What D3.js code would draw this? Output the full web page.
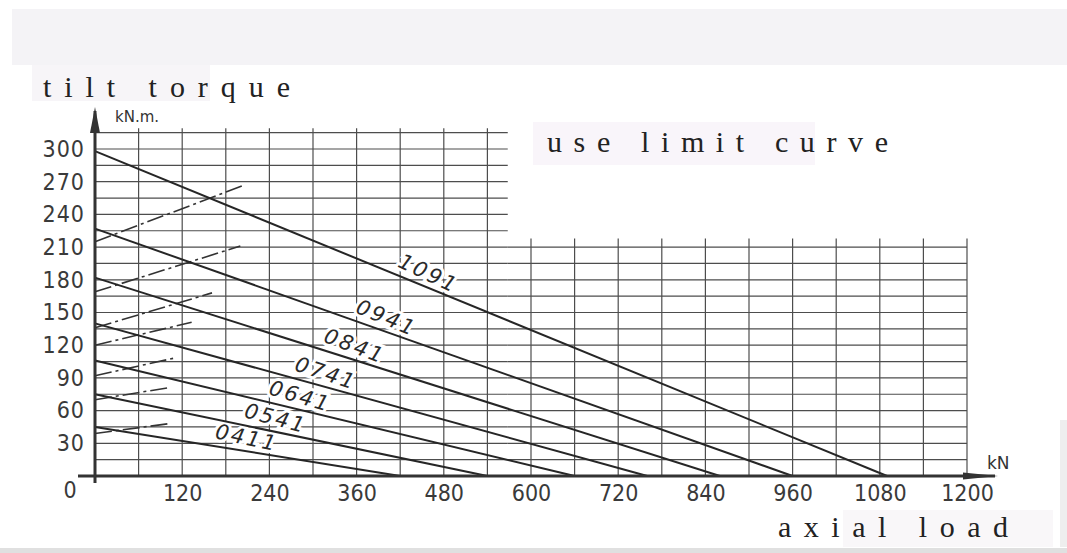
<!DOCTYPE html>
<html>
<head>
<meta charset="utf-8">
<script src="https://cdn.jsdelivr.net/npm/d3@7"></script>
<style>
  html, body { margin: 0; padding: 0; background: #fff; }
  svg { display: block; }
</style>
</head>
<body>
<script>
// Model lines: tilt torque at zero load, axial load at zero torque
const models = ["0411", "0541", "0641", "0741", "0841", "0941", "1091"];
const torqueAtZeroLoad = [45, 75, 106, 140, 182, 227, 298];
const loadAtZeroTorque = [420, 540, 660, 760, 860, 960, 1090];
const labelAtLoad = [205, 244, 277, 312, 351, 394, 451];

// Use limit curves (dash-dot), one per model
const limitStartTorque = [39, 70, 92, 120, 136, 169, 215];
const limitEndLoad = [102, 101, 108, 133, 161, 200, 202];
const limitEndTorque = [48, 81, 108, 141, 168, 211, 266];

// Tick labels
const xTicks = [120, 240, 360, 480, 600, 720, 840, 960, 1080, 1200];
const yTicks = [30, 60, 90, 120, 150, 180, 210, 240, 270, 300];

const width = 1067;
const height = 553;

const x = d3.scaleLinear().domain([0, 1200]).range([95, 967]);
const y = d3.scaleLinear().domain([0, 300]).range([476, 149]);

const svg = d3.select("body").append("svg")
    .attr("width", width)
    .attr("height", height)
    .attr("viewBox", [0, 0, width, height]);

// scan background patches
svg.append("rect").attr("x", 12).attr("y", 9).attr("width", width - 12).attr("height", 56).attr("fill", "#f4f3f6");
svg.append("rect").attr("x", 32).attr("y", 65).attr("width", 178).attr("height", 36).attr("fill", "#f7f5f8");
svg.append("rect").attr("x", 533).attr("y", 122).attr("width", 282).attr("height", 43).attr("fill", "#f9f5fa");
svg.append("rect").attr("x", 843).attr("y", 510).attr("width", 210).attr("height", 37).attr("fill", "#f9f7f9");
svg.append("rect").attr("x", 1060).attr("y", 420).attr("width", 7).attr("height", 127).attr("fill", "#eeeeee");
svg.append("rect").attr("x", 0).attr("y", 548).attr("width", width).attr("height", 5).attr("fill", "#e0e0e0");

// grid: left block reaches 315, right block only 210
const grid = svg.append("g")
    .attr("stroke", "#4d4d4d")
    .attr("stroke-width", 1.2)
    .attr("fill", "none");

const leftTop = 315, rightTop = 210;
const hLeft = d3.range(15, leftTop + 1, 15);
const hRight = d3.range(15, rightTop + 1, 15);

grid.selectAll(".hl")
  .data(hLeft)
  .join("line")
    .attr("class", "hl")
    .attr("x1", x(0)).attr("x2", x(568))
    .attr("y1", d => y(d)).attr("y2", d => y(d));

grid.selectAll(".hr")
  .data(hRight)
  .join("line")
    .attr("class", "hr")
    .attr("x1", x(568)).attr("x2", x(1200))
    .attr("y1", d => y(d)).attr("y2", d => y(d));

grid.selectAll(".vl")
  .data(d3.range(60, 541, 60))
  .join("line")
    .attr("class", "vl")
    .attr("x1", d => x(d)).attr("x2", d => x(d))
    .attr("y1", y(0)).attr("y2", y(leftTop + 4));

grid.selectAll(".vr")
  .data(d3.range(600, 1201, 60))
  .join("line")
    .attr("class", "vr")
    .attr("x1", d => x(d)).attr("x2", d => x(d))
    .attr("y1", y(0)).attr("y2", y(rightTop + 8));

// model labels sit just above their lines, breaking the grid behind them
svg.append("g")
    .attr("font-family", "'DejaVu Sans', sans-serif")
    .attr("font-style", "italic")
    .attr("font-size", 21)
    .attr("letter-spacing", 2.5)
    .attr("text-anchor", "middle")
  .selectAll("text")
  .data(models)
  .join("text")
    .attr("transform", (d, i) => {
      const t0 = torqueAtZeroLoad[i], l0 = loadAtZeroTorque[i];
      const lx = labelAtLoad[i];
      const ly = t0 * (1 - lx / l0);
      const ang = Math.atan2(y(0) - y(t0), x(l0) - x(0)) * 180 / Math.PI;
      return `translate(${x(lx)},${y(ly)}) rotate(${ang + 3})`;
    })
    .attr("dy", "-0.3em")
    .attr("fill", "#2a2a2a")
    .attr("stroke", "#fff")
    .attr("stroke-width", 6)
    .attr("paint-order", "stroke")
    .text(d => d);

// use limit curves, dash-dot
svg.append("g")
    .attr("stroke", "#333")
    .attr("stroke-width", 1.6)
    .attr("stroke-dasharray", "17,4,3,4")
  .selectAll("line")
  .data(models)
  .join("line")
    .attr("x1", x(0))
    .attr("y1", (d, i) => y(limitStartTorque[i]))
    .attr("x2", (d, i) => x(limitEndLoad[i]))
    .attr("y2", (d, i) => y(limitEndTorque[i]));

// model lines
svg.append("g")
    .attr("stroke", "#262626")
    .attr("stroke-width", 2)
  .selectAll("line")
  .data(models)
  .join("line")
    .attr("x1", x(0))
    .attr("y1", (d, i) => y(torqueAtZeroLoad[i]))
    .attr("x2", (d, i) => x(loadAtZeroTorque[i]))
    .attr("y2", y(0));

// axes
const axes = svg.append("g").attr("stroke", "#333").attr("stroke-width", 3);
axes.append("line")
    .attr("x1", x(0) - 17).attr("x2", x(1200) + 28)
    .attr("y1", y(0)).attr("y2", y(0));
axes.append("line")
    .attr("x1", x(0)).attr("x2", x(0))
    .attr("y1", y(0) + 7).attr("y2", y(300) - 38);

svg.append("path")
    .attr("fill", "#333")
    .attr("d", `M${x(0)},${y(300) - 42} L${x(0) + 5},${y(300) - 16} L${x(0) - 5},${y(300) - 16} Z`);
svg.append("path")
    .attr("fill", "#333")
    .attr("d", `M${x(1200) + 31},${y(0)} L${x(1200) - 4},${y(0) - 3.5} L${x(1200) - 4},${y(0) + 3.5} Z`);

// tick labels
const tickFont = "'DejaVu Sans Condensed', 'DejaVu Sans', sans-serif";

svg.append("g")
    .attr("transform", `translate(0,${y(0)})`)
    .call(d3.axisBottom(x).tickValues(xTicks).tickFormat(d3.format("d")).tickSize(0).tickPadding(9))
    .call(g => g.select(".domain").remove())
    .call(g => g.selectAll("text")
        .attr("font-family", tickFont)
        .attr("font-stretch", "condensed")
        .attr("font-size", 23)
        .attr("fill", "#3a3a3a"));

svg.append("g")
    .attr("transform", `translate(${x(0) - 10},0)`)
    .call(d3.axisLeft(y).tickValues(yTicks).tickFormat(d3.format("d")).tickSize(0).tickPadding(0))
    .call(g => g.select(".domain").remove())
    .call(g => g.selectAll("text")
        .attr("font-family", tickFont)
        .attr("font-stretch", "condensed")
        .attr("font-size", 23)
        .attr("letter-spacing", 1)
        .attr("fill", "#3a3a3a"));

svg.append("text")
    .attr("x", x(0) - 25).attr("y", y(0) + 14)
    .attr("dy", "0.35em")
    .attr("text-anchor", "middle")
    .attr("font-family", tickFont)
    .attr("font-stretch", "condensed")
    .attr("font-size", 23)
    .attr("fill", "#3a3a3a")
    .text("0");

// units
svg.append("text")
    .attr("x", x(0) + 20).attr("y", y(300) - 27)
    .attr("font-family", "'DejaVu Sans', sans-serif")
    .attr("font-size", 15)
    .attr("fill", "#333")
    .text("kN.m.");

svg.append("text")
    .attr("x", x(1200) + 20).attr("y", y(0) - 7)
    .attr("font-family", "'DejaVu Sans', sans-serif")
    .attr("font-size", 17)
    .attr("fill", "#333")
    .text("kN");

// titles
const titleFont = "'Liberation Serif', 'DejaVu Serif', serif";
[["tilt torque", 43, 97, 247], ["use limit curve", 547, 152, 341], ["axial load", 778, 537, 230]]
  .forEach(([t, tx, ty, tw]) => {
    svg.append("text")
        .attr("x", tx).attr("y", ty)
        .attr("font-family", titleFont)
        .attr("font-size", 30)
        .attr("fill", "#222")
        .attr("textLength", tw)
        .attr("lengthAdjust", "spacing")
        .text(t);
  });
</script>
</body>
</html>
